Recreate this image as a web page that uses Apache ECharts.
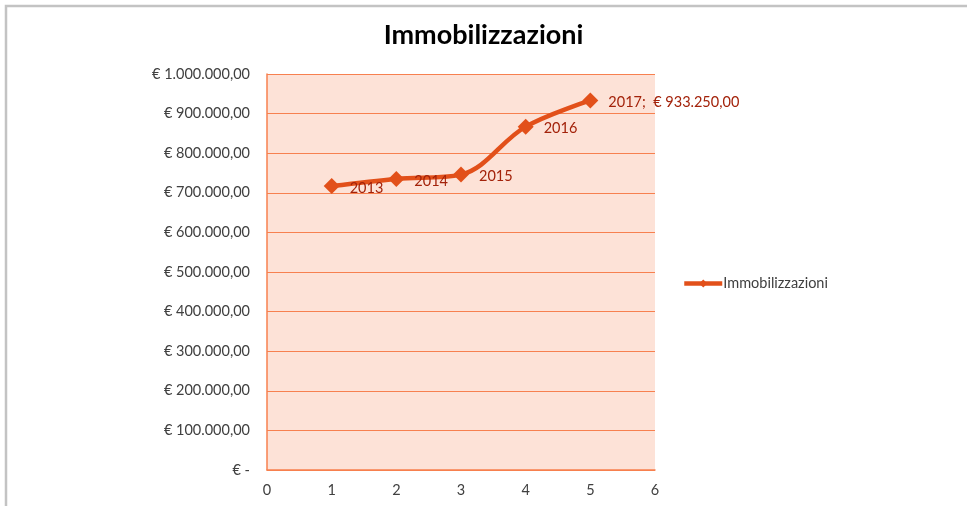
<!DOCTYPE html>
<html>
<head>
<meta charset="utf-8">
<script src="https://cdn.jsdelivr.net/npm/echarts@6/dist/echarts.min.js"></script>
<style>
  html, body { margin: 0; padding: 0; background: #fff; }
  #main { width: 967px; height: 506px; }
</style>
</head>
<body>
<div id="main"></div>
<script>
  // dati
  var anni = ['2013', '2014', '2015', '2016', '2017'];
  var posX = [1, 2, 3, 4, 5];
  var valori = [717000, 735000, 746000, 867000, 933250];
  var nomeSerie = 'Immobilizzazioni';

  function euro(v) {
    if (v === 0) return '€ -';
    var s = v.toFixed(2).split('.');
    var intero = s[0].replace(/\B(?=(\d{3})+(?!\d))/g, '.');
    return '€ ' + intero + ',' + s[1];
  }

  var punti = posX.map(function (x, i) { return [x, valori[i]]; });

  var font = 'Lato, "Open Sans", sans-serif';
  var arancio = '#e2501a';
  var griglia = '#f7804f';

  var myChart = echarts.init(document.getElementById('main'));
  var option = {
    backgroundColor: '#fff',
    animation: false,
    title: {
      text: nomeSerie,
      left: 'center',
      top: 17,
      textStyle: { fontFamily: font, fontSize: 27, fontWeight: 'bold', color: '#000' }
    },
    legend: {
      data: [nomeSerie],
      left: 682,
      top: 276,
      padding: 0,
      itemWidth: 38,
      itemHeight: 10,
      itemGap: 0,
      lineStyle: { width: 4.5 },
      textStyle: { fontFamily: font, fontSize: 14.5, color: '#404040', padding: [0, 0, 0, -4] }
    },
    grid: { left: 267, right: 312, top: 74, bottom: 36 },
    xAxis: {
      type: 'value',
      min: 0, max: 6, interval: 1,
      axisLine: { show: true, lineStyle: { color: griglia, width: 1.5 } },
      axisTick: { show: false },
      splitLine: { show: false },
      axisLabel: { fontFamily: font, fontSize: 14.5, color: '#404040', margin: 13 }
    },
    yAxis: {
      type: 'value',
      min: 0, max: 1000000, interval: 100000,
      axisLine: { show: true, lineStyle: { color: griglia, width: 1.5 } },
      axisTick: { show: false },
      splitLine: { show: true, lineStyle: { color: griglia, width: 1 } },
      splitArea: { show: true, areaStyle: { color: ['#fde2d7', '#fde2d7'] } },
      axisLabel: {
        fontFamily: font, fontSize: 14.5, color: '#404040', margin: 17,
        formatter: function (v) { return euro(v); }
      }
    },
    series: [{
      name: nomeSerie,
      type: 'line',
      data: punti,
      smooth: 0.35,
      symbol: 'diamond',
      symbolSize: 16,
      lineStyle: { color: arancio, width: 4.5 },
      itemStyle: { color: arancio },
      label: {
        show: true,
        position: 'right',
        distance: 10,
        offset: [0, 2],
        fontFamily: font,
        fontSize: 14.5,
        color: '#a3220a',
        formatter: function (p) {
          var i = p.dataIndex;
          if (i === anni.length - 1) return anni[i] + ';  ' + euro(valori[i]);
          return anni[i];
        }
      }
    }],
    graphic: [{
      type: 'rect',
      shape: { x: 6, y: 6, width: 975, height: 520 },
      style: { fill: 'none', stroke: '#c3c3c3', lineWidth: 2.5 },
      silent: true
    }]
  };
  myChart.setOption(option, true);
</script>
</body>
</html>
